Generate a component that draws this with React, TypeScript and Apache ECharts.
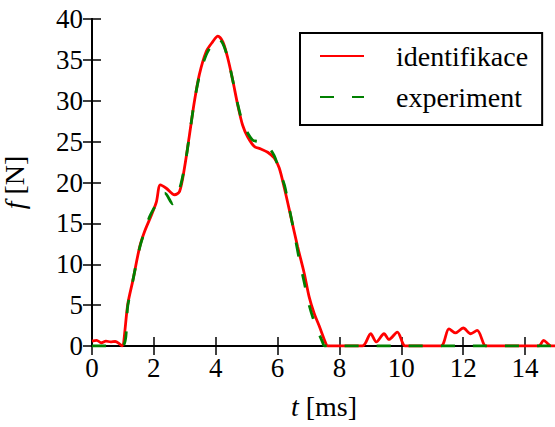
import React, { useEffect, useRef } from "react";
import * as echarts from "echarts";

// identifikace (red, solid)
const identTime = [0, 0.15, 0.3, 0.45, 0.6, 0.75, 0.89, 0.97, 1.16, 1.32, 1.54, 1.7, 1.92, 2.08, 2.21, 2.4, 2.67, 2.83, 2.99, 3.15, 3.31, 3.47, 3.69, 3.9, 4.07, 4.23, 4.39, 4.55, 4.71, 4.87, 5.03, 5.25, 5.46, 5.68, 5.89, 6.05, 6.22, 6.43, 6.65, 6.86, 7.02, 7.18, 7.34, 7.56, 7.62, 8.74, 9.01, 9.19, 9.44, 9.6, 9.87, 10.05, 10.12, 11.27, 11.54, 11.75, 12.0, 12.24, 12.45, 12.67, 12.72, 14.44, 14.6, 14.76, 14.85, 15];
const identForce = [0.6, 0.7, 0.4, 0.6, 0.5, 0.55, 0.25, 0, 5.2, 8.0, 12.1, 14.0, 16.0, 17.6, 19.7, 19.3, 18.5, 18.9, 21.8, 25.8, 29.9, 33.2, 36.0, 37.2, 37.9, 37.2, 35.2, 32.5, 29.5, 27.0, 25.6, 24.4, 24.1, 23.7, 23.0, 21.8, 19.3, 15.8, 12.1, 8.9, 6.0, 4.0, 2.5, 0.3, 0, 0, 1.5, 0.5, 1.5, 0.8, 1.7, 0.3, 0, 0, 2.1, 1.6, 2.2, 1.5, 1.9, 0.2, 0, 0, 0.7, 0.2, 0, 0];

// experiment (green, dashed)
const expTime = [0, 0.97, 1.16, 1.32, 1.54, 1.7, 1.86, 2.08, 2.2, 2.35, 2.61, 2.75, 2.9, 3.05, 3.15, 3.31, 3.47, 3.69, 3.9, 4.05, 4.23, 4.39, 4.55, 4.71, 4.87, 4.98, 5.19, 5.4, 5.6, 5.89, 6.05, 6.22, 6.38, 6.54, 6.7, 6.86, 7.02, 7.2, 7.45, 7.52, 15];
const expForce = [0, 0, 5.0, 8.0, 12.0, 14.0, 15.8, 17.4, 18.3, 18.7, 17.4, 18.3, 20.2, 23.2, 25.8, 29.9, 33.0, 35.6, 37.0, 37.7, 37.0, 35.2, 32.5, 29.6, 27.3, 26.4, 25.2, 25.0, 24.8, 23.3, 21.5, 19.7, 16.8, 13.8, 10.6, 7.8, 5.0, 2.8, 0.5, 0, 0];

const xTicks = { min: 0, max: 15, interval: 2 };
const yTicks = { min: 0, max: 40, interval: 5 };

const FONT = "Liberation Serif";

export default function App() {
  const ref = useRef<HTMLDivElement>(null);
  useEffect(() => {
    if (!ref.current) return;
    const chart = echarts.init(ref.current, null, { renderer: "svg" });
    const identData = identTime.map((t, i) => [t, identForce[i]]);
    const expData = expTime.map((t, i) => [t, expForce[i]]);
    const axisLine = { show: true, lineStyle: { color: "#000", width: 2 } };
    const axisTick = { show: true, inside: true, length: 9, lineStyle: { color: "#000", width: 1.5 } };
    const label = { color: "#000", fontFamily: FONT, fontSize: 27 };
    chart.setOption({
      animation: false,
      backgroundColor: "#fff",
      grid: { left: 92, right: -1, top: 19, bottom: 81, containLabel: false, outerBoundsMode: "none" },
      xAxis: [
        {
          type: "value", position: "bottom", ...xTicks,
          axisLine, axisTick, splitLine: { show: false },
          axisLabel: { ...label, margin: 8, showMaxLabel: false },
          name: "{i|t} [ms]", nameLocation: "middle", nameGap: 46,
          nameTextStyle: { color: "#000", fontFamily: FONT, fontSize: 28, rich: { i: { fontStyle: "italic", fontFamily: FONT, fontSize: 28, color: "#000" } } },
        },
        {
          type: "value", position: "top", ...xTicks,
          axisLine, axisTick, splitLine: { show: false }, axisLabel: { show: false },
        },
      ],
      yAxis: [
        {
          type: "value", position: "left", ...yTicks,
          axisLine, axisTick, splitLine: { show: false },
          axisLabel: { ...label, margin: 9 },
          name: "{i|f} [N]", nameLocation: "middle", nameGap: 64,
          nameTextStyle: { color: "#000", fontFamily: FONT, fontSize: 28, rich: { i: { fontStyle: "italic", fontFamily: FONT, fontSize: 28, color: "#000" } } },
        },
        {
          type: "value", position: "right", ...yTicks,
          axisLine, axisTick, splitLine: { show: false }, axisLabel: { show: false },
        },
      ],
      legend: {
        data: ["identifikace", "experiment"],
        orient: "vertical",
        left: 300, top: 33,
        backgroundColor: "#fff",
        borderColor: "#000", borderWidth: 2, borderRadius: 0,
        padding: [8, 14, 13, 19],
        itemWidth: 44, itemHeight: 14, itemGap: 11,
        itemStyle: { color: "rgba(0,0,0,0)", borderColor: "rgba(0,0,0,0)", borderWidth: 0, opacity: 0 },
        textStyle: { color: "#000", fontFamily: FONT, fontSize: 28, lineHeight: 30, padding: [0, 0, 0, 27] },
      },
      series: [
        {
          name: "identifikace", type: "line", data: identData,
          showSymbol: false, symbol: "none", smooth: 0.3,
          lineStyle: { color: "#ff0000", width: 2.8 }, itemStyle: { color: "#ff0000" },
        },
        {
          name: "experiment", type: "line", data: expData,
          showSymbol: false, symbol: "none", smooth: 0.3,
          lineStyle: { color: "#008000", width: 2.8, type: [14, 18] }, itemStyle: { color: "#008000" },
        },
      ],
    });
    return () => chart.dispose();
  }, []);
  return <div ref={ref} style={{ position: "fixed", left: 0, top: 0, width: 555, height: 427 }} />;
}
